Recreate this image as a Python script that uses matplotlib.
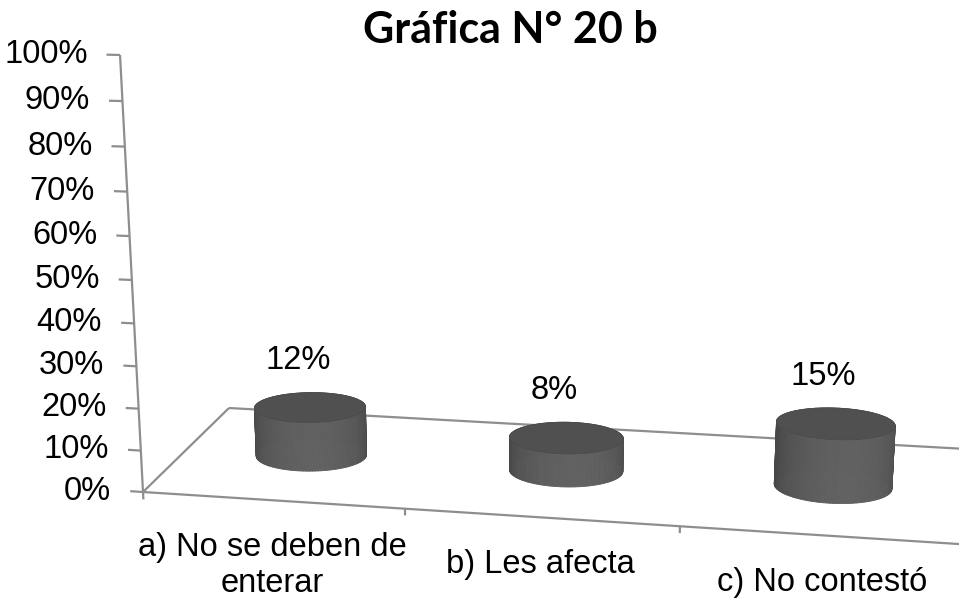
import numpy as np
import matplotlib
matplotlib.use("Agg")
import matplotlib.pyplot as plt
from matplotlib.collections import PolyCollection

plt.rcParams['font.family'] = ['Liberation Sans', 'DejaVu Sans']

# data
categories = ["a) No se deben de\nenterar", "b) Les afecta", "c) No contestó"]
values = [12, 8, 15]
y_ticks = list(range(0, 101, 10))
title = "Gráfica N° 20 b"

# perspective camera: (category, depth, value fraction) -> pixel coords
P = np.array([
    [252.4, 111.3, -29.9, 143.0],
    [4.68, -38.9, -440.2, 492.0],
    [-0.02364, 0.1105, -0.0578, 1.0],
])


def proj(x, d, z):
    x, d, z = np.broadcast_arrays(np.asarray(x, float), np.asarray(d, float),
                                  np.asarray(z, float))
    pts = np.stack([x, d, z, np.ones_like(x)])
    u, v, w = np.tensordot(P, pts, axes=1)
    return u / w, v / w


fig = plt.figure(figsize=(9.59, 5.99), dpi=100)
ax = fig.add_axes([0, 0, 1, 1])
ax.set_xlim(0, 959)
ax.set_ylim(599, 0)
ax.axis("off")

line_kw = dict(color="#8e8e8e", lw=1.6, solid_capstyle="butt", zorder=1)
n = len(categories)

# floor outline
for (x0, d0), (x1, d1) in [((0, 0), (n, 0)), ((0, 1), (n, 1)), ((0, 0), (0, 1)), ((n, 0), (n, 1))]:
    xs, ys = proj([x0, x1], [d0, d1], [0, 0])
    ax.plot(xs, ys, **line_kw)

# value axis and ticks
xs, ys = proj([0, 0], [0, 0], [-0.018, 1.0])
ax.plot(xs, ys, **line_kw)
for t in y_ticks:
    xs, ys = proj([-0.05, 0], [0, 0], [t / 100, t / 100])
    ax.plot(xs, ys, **line_kw)
    ax.text(xs[0] - 19, ys[0], f"{t}%", ha="right", va="center", fontsize=23.5)

# category ticks and labels
for k in range(1, n):
    xs, ys = proj([k, k], [0, 0], [0, -0.016])
    ax.plot(xs, ys, **line_kw)
for i, lab in enumerate(categories):
    lx, ly = proj(i + 0.5, 0, 0)
    ax.text(lx, ly + 32, lab, ha="center", va="top", fontsize=23.5, linespacing=1.2)

# cylinders
rx, rd = 0.215, 0.18
theta = np.linspace(0, 2 * np.pi, 121)
light = np.array([0.3, -1.0])
light /= np.linalg.norm(light)

for i, v in enumerate(values):
    cx, cd, h = i + 0.5, 0.5, v / 100
    px = cx + rx * np.cos(theta)
    pd = cd + rd * np.sin(theta)
    bx, by = proj(px, pd, 0)
    tx, ty = proj(px, pd, h)

    quads, cols, depth = [], [], []
    for j in range(len(theta) - 1):
        quads.append([(bx[j], by[j]), (bx[j + 1], by[j + 1]),
                      (tx[j + 1], ty[j + 1]), (tx[j], ty[j])])
        tm = 0.5 * (theta[j] + theta[j + 1])
        lam = max(0.0, np.cos(tm) * light[0] + np.sin(tm) * light[1])
        g = 0.28 + 0.10 * lam
        cols.append((g, g, g))
        depth.append(np.sin(tm))
    order = np.argsort(depth)[::-1]
    quads = [quads[k] for k in order]
    cols = [cols[k] for k in order]
    ax.add_collection(PolyCollection(quads, facecolors=cols, edgecolors=cols,
                                     linewidths=0.6, zorder=3))
    ax.fill(tx, ty, color="#505050", lw=0.6, ec="#4c4c4c", zorder=4)

    lx, ly = proj(cx, cd, h)
    ax.text(lx - 12, ly - 47, f"{v}%", ha="center", va="center", fontsize=23.5, zorder=5)

ax.text(510, 30, title, ha="center", va="center", fontsize=31, fontweight="bold",
        family=["Lato", "DejaVu Sans"])

fig.savefig("out.png", dpi=100)
